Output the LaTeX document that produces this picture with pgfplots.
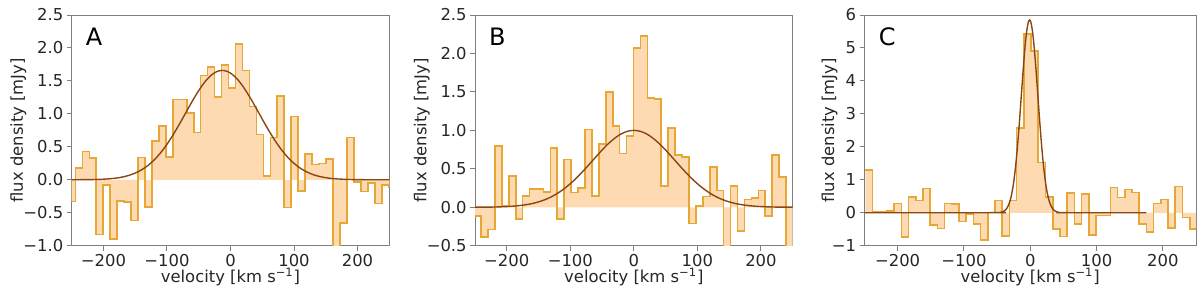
\documentclass[border=0pt]{standalone}
\usepackage{fontspec}
\setmainfont{DejaVu Sans}
\usepackage{pgfplots}
\usepackage{pgfplotstable}
\pgfplotsset{compat=1.18}
\definecolor{histline}{HTML}{E6A735}
\definecolor{histfill}{HTML}{FDDAB2}
\definecolor{gausscol}{HTML}{8B4513}
\definecolor{spine}{HTML}{7F7F7F}

\pgfplotstableread{
x y
-255.16 -0.33
-244.20 0.18
-233.24 0.43
-222.28 0.33
-211.32 -0.83
-200.36 -0.08
-189.40 -0.90
-178.44 -0.32
-167.48 -0.34
-156.52 -0.62
-145.56 0.34
-134.60 -0.41
-123.64 0.59
-112.68 0.82
-101.72 0.35
-90.76 1.22
-79.80 1.22
-68.84 1.01
-57.88 0.72
-46.92 1.58
-35.96 1.71
-25.00 1.26
-14.04 1.74
-3.08 1.39
7.88 2.06
18.84 1.66
29.80 1.11
40.76 0.69
51.72 0.06
62.68 0.64
73.64 1.27
84.60 -0.42
95.56 0.96
106.52 -0.17
117.48 0.39
128.44 0.23
139.40 0.25
150.36 0.32
161.32 -1.20
172.28 -0.66
183.24 0.64
194.20 -0.03
205.16 -0.18
216.12 -0.05
227.08 -0.36
238.04 -0.08
249.00 -0.11
259.96 -0.11
}\dataA

\pgfplotstableread{
x y
-250 0.000
-240 0.001
-230 0.002
-220 0.003
-210 0.005
-200 0.009
-190 0.016
-180 0.026
-170 0.042
-160 0.067
-150 0.102
-140 0.151
-130 0.217
-120 0.303
-110 0.410
-100 0.539
-90 0.688
-80 0.852
-70 1.024
-60 1.195
-50 1.354
-40 1.490
-30 1.590
-20 1.648
-10 1.658
0 1.619
10 1.535
20 1.412
30 1.261
40 1.093
50 0.920
60 0.752
70 0.596
80 0.459
90 0.343
100 0.249
110 0.175
120 0.120
130 0.079
140 0.051
150 0.032
160 0.019
170 0.012
180 0.007
190 0.004
200 0.002
220 0.001
250 0.000
}\gaussA

\pgfplotstableread{
x y
-251.41 -0.11
-240.50 -0.39
-229.59 -0.29
-218.68 0.80
-207.77 0.02
-196.86 0.41
-185.95 -0.15
-175.04 0.15
-164.13 0.24
-153.22 0.24
-142.31 0.20
-131.40 0.77
-120.49 -0.15
-109.58 0.62
-98.67 0.19
-87.76 0.25
-76.85 1.01
-65.94 0.15
-55.03 0.82
-44.12 1.50
-33.21 1.06
-22.30 0.70
-11.39 0.93
-0.48 2.07
10.43 2.23
21.34 1.42
32.25 1.41
43.16 0.28
54.07 1.03
64.98 0.68
75.89 0.65
86.80 -0.21
97.71 0.02
108.62 0.14
119.53 0.52
130.44 0.22
141.35 -0.70
152.26 0.28
163.17 -0.31
174.08 0.10
184.99 0.12
195.90 0.22
206.81 -0.11
217.72 0.68
228.63 0.39
239.54 -0.70
250.45 -0.70
}\dataB

\pgfplotstableread{
x y
-250 0.001
-220 0.003
-200 0.009
-190 0.014
-180 0.022
-170 0.033
-160 0.048
-150 0.070
-140 0.098
-130 0.135
-120 0.182
-110 0.239
-100 0.306
-90 0.383
-80 0.469
-70 0.560
-60 0.653
-50 0.744
-40 0.828
-30 0.899
-20 0.954
-10 0.988
0 1.000
10 0.988
20 0.954
30 0.899
40 0.828
50 0.744
60 0.653
70 0.560
80 0.469
90 0.383
100 0.306
110 0.239
120 0.182
130 0.135
140 0.098
150 0.070
160 0.048
170 0.033
180 0.022
190 0.014
200 0.009
220 0.003
250 0.001
}\gaussB

\pgfplotstableread{
x y
-248.875 1.29
-238.000 0.02
-227.125 0.04
-216.250 0.06
-205.375 0.28
-194.500 -0.74
-183.625 0.47
-172.750 0.37
-161.875 0.73
-151.000 -0.38
-140.125 -0.48
-129.250 0.28
-118.375 0.26
-107.500 -0.27
-96.625 -0.03
-85.750 -0.35
-74.875 -0.83
-64.000 0.01
-53.125 0.37
-42.250 -0.71
-31.375 0.37
-20.500 2.58
-9.625 5.42
1.250 4.90
12.125 1.53
23.000 0.47
33.875 -0.50
44.750 -0.72
55.625 0.60
66.500 -0.35
77.375 0.57
88.250 -0.68
99.125 -0.08
110.000 -0.08
120.875 0.77
131.750 0.46
142.625 0.71
153.500 0.62
164.375 -0.35
175.250 -0.58
186.125 0.28
197.000 0.40
207.875 -0.47
218.750 0.80
229.625 -0.14
240.500 -0.49
251.375 -0.49
}\dataC

\pgfplotstableread{
x y
-250 0.000
-51 0.002
-45 0.012
-41 0.035
-39 0.058
-37 0.0925
-35 0.145
-33 0.221
-31 0.328
-29 0.476
-27 0.673
-25 0.926
-23 1.243
-21 1.626
-19 2.074
-17 2.579
-15 3.124
-13 3.690
-11 4.248
-9 4.767
-7 5.214
-5 5.558
-3 5.776
-1 5.850
1 5.776
3 5.558
5 5.214
7 4.767
9 4.248
11 3.690
13 3.124
15 2.579
17 2.074
19 1.626
21 1.243
23 0.926
25 0.673
27 0.476
29 0.328
31 0.221
33 0.145
35 0.0925
37 0.058
39 0.035
43 0.012
49 0.002
175 0.000
}\gaussC

\newcommand{\lblfont}{\fontsize{8.2}{9}\selectfont}
\pgfplotsset{
  spec/.style={
    scale only axis, height=115.35pt,
    xmin=-250, xmax=250,
    axis line style={spine, line width=0.5pt},
    tick align=outside, xtick pos=bottom, ytick pos=left,
    major tick length=2.4pt,
    every tick/.style={spine, line width=0.5pt},
    tick label style={font=\lblfont, text=black!85, inner sep=1.6pt},
    xtick={-200,-100,0,100,200},
    xticklabels={−200,−100,0,100,200},
    xlabel={velocity [km s\textsuperscript{−1}]},
    ylabel={flux density [mJy]},
    every axis x label/.style={at={(axis description cs:0.5,0)}, anchor=base, yshift=-18.2pt, font=\lblfont, text=black!85},
    every axis y label/.style={at={(axis description cs:0,0.5)}, xshift=-24.35pt, rotate=90, anchor=base, font=\lblfont, text=black!85},
    anchor=south west,
  },
  histfillstyle/.style={const plot, draw=none, fill=histfill, forget plot},
  histlinestyle/.style={const plot, histline, line width=0.8pt, line join=miter},
  gaussstyle/.style={gausscol, line width=0.7pt, smooth},
}

\begin{document}
\begin{tikzpicture}
\useasboundingbox (0,0) rectangle (600pt,145.5pt);

\begin{axis}[spec, at={(35.85pt,22.65pt)}, width=158.8pt,
  ymin=-1, ymax=2.5,
  ytick={-1,-0.5,0,0.5,1,1.5,2,2.5},
  yticklabels={−1.0,−0.5,0.0,0.5,1.0,1.5,2.0,2.5}]
\addplot[histfillstyle] table {\dataA} \closedcycle;
\addplot[histlinestyle] table {\dataA};
\addplot[gaussstyle] table {\gaussA};
\node[anchor=base west, font=\fontsize{12}{14}\selectfont, text=black] at (rel axis cs:0.022,0.866) {A};
\end{axis}

\begin{axis}[spec, at={(237.5pt,22.65pt)}, width=158.85pt,
  ymin=-0.5, ymax=2.5,
  ytick={-0.5,0,0.5,1,1.5,2,2.5},
  yticklabels={−0.5,0.0,0.5,1.0,1.5,2.0,2.5}]
\addplot[histfillstyle] table {\dataB} \closedcycle;
\addplot[histlinestyle] table {\dataB};
\addplot[gaussstyle] table {\gaussB};
\node[anchor=base west, font=\fontsize{12}{14}\selectfont, text=black] at (rel axis cs:0.022,0.866) {B};
\end{axis}

\begin{axis}[spec, at={(432.25pt,22.65pt)}, width=165.75pt,
  ymin=-1, ymax=6,
  ytick={-1,0,1,2,3,4,5,6},
  yticklabels={−1,0,1,2,3,4,5,6},
  every axis y label/.style={at={(axis description cs:0,0.5)}, xshift=-15.25pt, rotate=90, anchor=base, font=\lblfont, text=black!85}]
\addplot[histfillstyle] table {\dataC} \closedcycle;
\addplot[histlinestyle] table {\dataC};
\addplot[gaussstyle] table {\gaussC};
\node[anchor=base west, font=\fontsize{12}{14}\selectfont, text=black] at (rel axis cs:0.022,0.866) {C};
\end{axis}
\end{tikzpicture}
\end{document}
